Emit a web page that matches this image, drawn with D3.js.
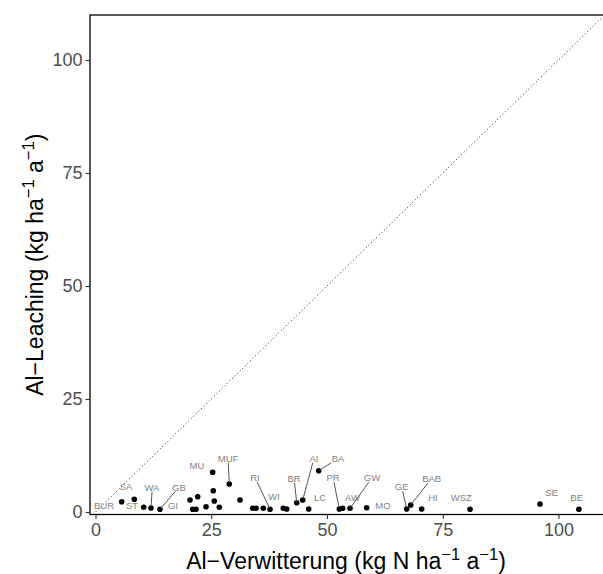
<!DOCTYPE html>
<html><head><meta charset="utf-8">
<script src="https://cdn.jsdelivr.net/npm/d3@7"></script>
<style>body{margin:0;background:#fff}svg{display:block}text{font-family:"Liberation Sans",Arial,Helvetica,sans-serif}</style>
</head><body><svg id="c" width="603" height="574"></svg>
<script>
// Data
const pointX = [5.66,8.38,10.41,11.99,13.93,20.41,22.07,20.99,21.71,23.87,25.31,25.44,25.66,26.74,28.9,31.21,33.95,34.67,36.24,37.69,40.56,41.3,43.46,44.75,48.21,46.05,52.66,53.39,54.97,58.57,67.21,68.08,70.45,80.89,96.0,104.4];
const pointY = [2.28,2.81,1.04,0.88,0.6,2.65,3.38,0.6,0.6,1.17,8.78,4.71,2.43,1.04,6.19,2.65,0.82,0.82,0.82,0.6,0.82,0.66,2.06,2.65,9.14,0.66,0.66,0.82,0.82,0.95,0.66,1.55,0.66,0.6,1.77,0.6];
const labelNames = ["BUR","SA","ST","WA","GB","GI","MU","MUF","RI","WI","BR","AI","BA","LC","PR","AW","GW","MO","GE","BAB","HI","WSZ","SE","BE"];
const labelX = [1.84,6.59,7.88,12.20,18.03,16.74,21.92,28.62,34.43,38.55,42.87,47.19,52.38,48.49,51.30,55.51,59.72,62.10,66.13,72.61,72.89,79.01,98.53,103.93];
const labelY = [1.33,5.60,1.33,5.53,5.53,1.33,10.18,11.88,7.68,3.38,7.46,11.88,11.88,3.25,7.59,3.25,7.59,1.39,5.60,7.46,3.25,3.25,4.36,3.25];
// index of point each label is tied to with a segment (-1 = no segment drawn)
const labelPoint = [-1,-1,-1,3,4,-1,-1,14,19,-1,22,23,24,-1,26,-1,28,-1,30,31,-1,-1,-1,-1];
const xTicks = [0,25,50,75,100];
const yTicks = [0,25,50,75,100];
const refLine = [0,120];

const svg = d3.select("#c");
const P = {l:90, t:15, r:604, b:514.5};
const x = d3.scaleLinear().domain([0,100]).range([95.5,558.5]);
const y = d3.scaleLinear().domain([0,100]).range([512,60]);

svg.append("rect").attr("width",603).attr("height",574).attr("fill","#fff");
svg.append("defs").append("clipPath").attr("id","clip")
  .append("rect").attr("x",P.l).attr("y",P.t).attr("width",P.r-P.l).attr("height",P.b-P.t);

const g = svg.append("g").attr("clip-path","url(#clip)");
// y = x reference line
g.append("line").attr("x1",x(refLine[0])).attr("y1",y(refLine[0])).attr("x2",x(refLine[1])).attr("y2",y(refLine[1]))
  .attr("stroke","#000").attr("stroke-width",0.9).attr("stroke-dasharray","1,2.6");

// points
g.selectAll("circle").data(pointX).join("circle")
  .attr("cx",(d)=>x(d)).attr("cy",(d,i)=>y(pointY[i])).attr("r",2.8).attr("fill","#000");

// labels
const lab = g.append("g");
const texts = lab.selectAll("text").data(labelNames).join("text")
  .attr("x",(d,i)=>x(labelX[i])).attr("y",(d,i)=>y(labelY[i]))
  .attr("text-anchor","middle").attr("dominant-baseline","central")
  .attr("font-size",9.5).attr("fill","#7f7f7f").text(d=>d);

texts.each(function(d,i){
  const pi = labelPoint[i];
  if (pi<0) return;
  const bb = this.getBBox();
  const cx = bb.x+bb.width/2, cy = bb.y+bb.height/2;
  const px = x(pointX[pi]), py = y(pointY[pi]);
  const hw = bb.width/2+1, hh = bb.height/2-1;
  const dx = px-cx, dy = py-cy;
  let t = Math.min(dx!==0?hw/Math.abs(dx):Infinity, dy!==0?hh/Math.abs(dy):Infinity);
  const sx = cx+dx*t, sy = cy+dy*t;
  const len = Math.hypot(px-sx,py-sy);
  const ex = px-(px-sx)/len*1.5, ey = py-(py-sy)/len*1.5;
  lab.append("line").attr("x1",sx).attr("y1",sy).attr("x2",ex).attr("y2",ey)
    .attr("stroke","#555").attr("stroke-width",1);
});

// panel border
svg.append("rect").attr("x",P.l).attr("y",P.t).attr("width",P.r-P.l).attr("height",P.b-P.t)
  .attr("fill","none").attr("stroke","#000").attr("stroke-width",1.3);

// axes
const xa = svg.append("g").attr("transform",`translate(0,${P.b})`)
  .call(d3.axisBottom(x).tickValues(xTicks).tickSize(4.5).tickPadding(4));
const ya = svg.append("g").attr("transform",`translate(${P.l},0)`)
  .call(d3.axisLeft(y).tickValues(yTicks).tickSize(4.5).tickPadding(3));
[xa,ya].forEach(a=>{
  a.select(".domain").remove();
  a.selectAll(".tick line").attr("stroke","#333").attr("stroke-width",1.1);
  a.selectAll(".tick text").attr("fill","#4d4d4d").attr("font-size",18)
   .attr("font-family","'Liberation Sans',Arial,sans-serif");
});

// axis titles
function title(sel, parts){
  parts.forEach(p=>{
    const t = sel.append("tspan").text(p[0]);
    if (p[1]) t.attr("baseline-shift","super").attr("font-size","0.72em");
  });
}
const xt = svg.append("text").attr("x",(P.l+P.r)/2-1).attr("y",569).attr("text-anchor","middle")
  .attr("font-size",23).attr("fill","#000");
title(xt, [["Al\u2212Verwitterung (kg N ha"],["\u22121",1],[" a"],["\u22121",1],[")"]]);
const yt = svg.append("text").attr("transform",`translate(43,${(P.t+P.b)/2}) rotate(-90)`).attr("text-anchor","middle")
  .attr("font-size",23).attr("fill","#000");
title(yt, [["Al\u2212Leaching (kg ha"],["\u22121",1],[" a"],["\u22121",1],[")"]]);
</script></body></html>
